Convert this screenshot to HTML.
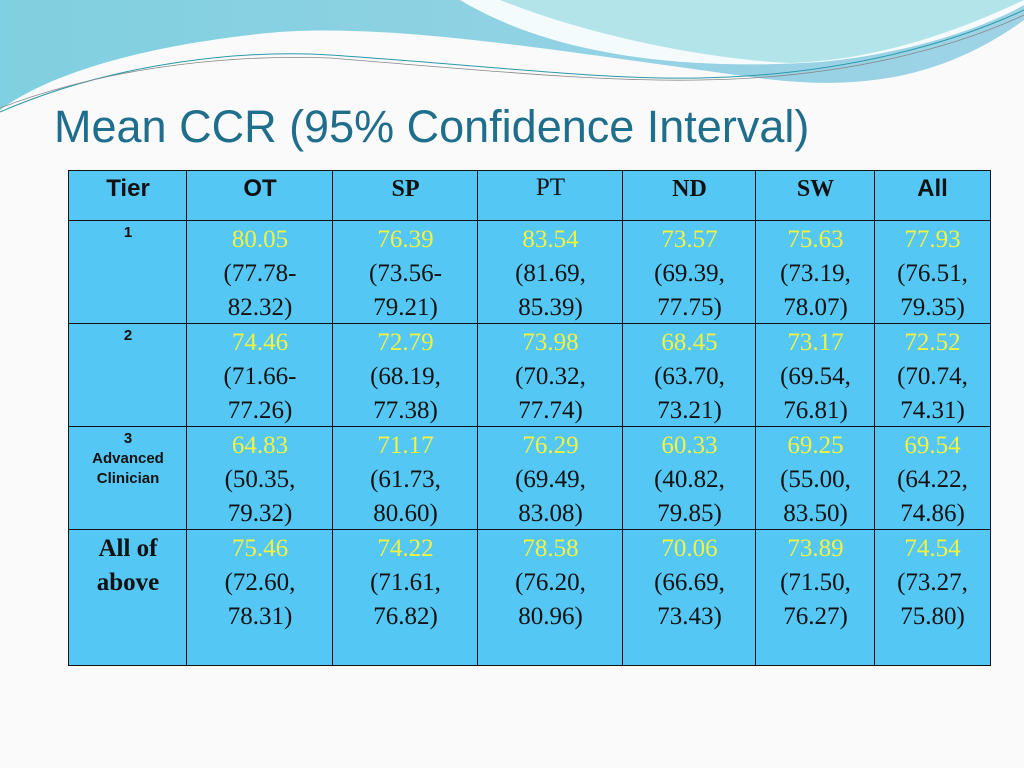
<!DOCTYPE html>
<html><head><meta charset="utf-8"><style>
body{margin:0;width:1024px;height:768px;background:#fafafa;position:relative;overflow:hidden;font-family:"Liberation Sans",sans-serif}
.t{position:absolute;left:54px;top:101px;font-size:45px;color:#1f6e8c;white-space:nowrap}
.c{position:absolute;box-sizing:border-box;border:1.5px solid #111;background:#55c7f4;text-align:center;font-family:"Liberation Serif",serif;font-size:25px;line-height:34px;color:#111}
.y{color:#f2f244}
.h{font-weight:bold;font-size:24px;line-height:36px}
.s{font-family:"Liberation Sans",sans-serif}
.tl{font-family:"Liberation Sans",sans-serif;font-weight:bold;font-size:15px;line-height:20px;padding-top:2px}
</style></head><body>
<svg width="1024" height="120" style="position:absolute;left:0;top:0">
<defs><linearGradient id="g" x1="0" y1="0" x2="1" y2="0"><stop offset="0" stop-color="#7fd0e0"/><stop offset="1" stop-color="#9fd3e6"/></linearGradient></defs>
<path d="M0 0H1024V20C900 110 780 80 700 70C520 45 360 20 250 35C120 50 40 80 0 110Z" fill="url(#g)"/>
<path d="M460 0C560 60 700 70 820 62C900 55 980 30 1024 5V0Z" fill="#fff" opacity="0.9"/>
<path d="M500 0C600 40 720 60 790 63C880 60 960 30 1024 0Z" fill="#b3e4ea"/>
<path d="M0 112C120 60 250 50 330 55C480 65 600 80 700 78C850 75 960 40 1024 10" stroke="#2a9aa8" fill="none" stroke-width="1"/>
<path d="M0 108C120 62 250 55 330 58C480 70 600 82 700 80C850 78 960 45 1024 15" stroke="#888" fill="none" stroke-width="0.8"/>
</svg>
<div class="t">Mean CCR (95% Confidence Interval)</div>
<div id="tbl"></div>
<script>
const xs=[68,187,333,478,623,756,875,990];
const ys=[170,221,324,427,530,665];
const heads=[["Tier","h s"],["OT","h s"],["SP","h"],["PT",""],["ND","h"],["SW","h"],["All","h s"]];
const tiers=["1","2","3<br>Advanced<br>Clinician"];
const cols=["ot","sp","pt","nd","sw","all"];
const means=[["80.05","76.39","83.54","73.57","75.63","77.93"],["74.46","72.79","73.98","68.45","73.17","72.52"],["64.83","71.17","76.29","60.33","69.25","69.54"],["75.46","74.22","78.58","70.06","73.89","74.54"]];
const cis=[["(77.78-<br>82.32)","(73.56-<br>79.21)","(81.69,<br>85.39)","(69.39,<br>77.75)","(73.19,<br>78.07)","(76.51,<br>79.35)"],
["(71.66-<br>77.26)","(68.19,<br>77.38)","(70.32,<br>77.74)","(63.70,<br>73.21)","(69.54,<br>76.81)","(70.74,<br>74.31)"],
["(50.35,<br>79.32)","(61.73,<br>80.60)","(69.49,<br>83.08)","(40.82,<br>79.85)","(55.00,<br>83.50)","(64.22,<br>74.86)"],
["(72.60,<br>78.31)","(71.61,<br>76.82)","(76.20,<br>80.96)","(66.69,<br>73.43)","(71.50,<br>76.27)","(73.27,<br>75.80)"]];
const T=document.getElementById('tbl');
function cell(c,r,html,cls,name){const d=document.createElement('div');d.className='c '+cls;
d.style.left=(xs[c]-(c?1:0))+'px';d.style.top=(ys[r]-(r?1:0))+'px';d.style.width=(xs[c+1]-xs[c]+(c?1:0)+1)+'px';d.style.height=(ys[r+1]-ys[r]+(r?1:0)+1)+'px';
d.innerHTML=html;


T.appendChild(d);}
heads.forEach((h,i)=>cell(i,0,h[0],h[1],'header-'+h[0].toLowerCase()));
for(let r=0;r<4;r++){
 if(r<3)cell(0,r+1,tiers[r],'tl','tier-'+(r+1)+'-label');
 else cell(0,r+1,'<div style="padding-top:2px;font-weight:bold;font-size:25px;line-height:34px">All of<br>above</div>','','tier-all-label');
 for(let c=0;c<6;c++)cell(c+1,r+1,'<div style="padding-top:2px"><span class="y">'+means[r][c]+'</span><br>'+cis[r][c]+'</div>','','cell-'+(r+1)+'-'+cols[c]);
}
</script>
</body></html>
